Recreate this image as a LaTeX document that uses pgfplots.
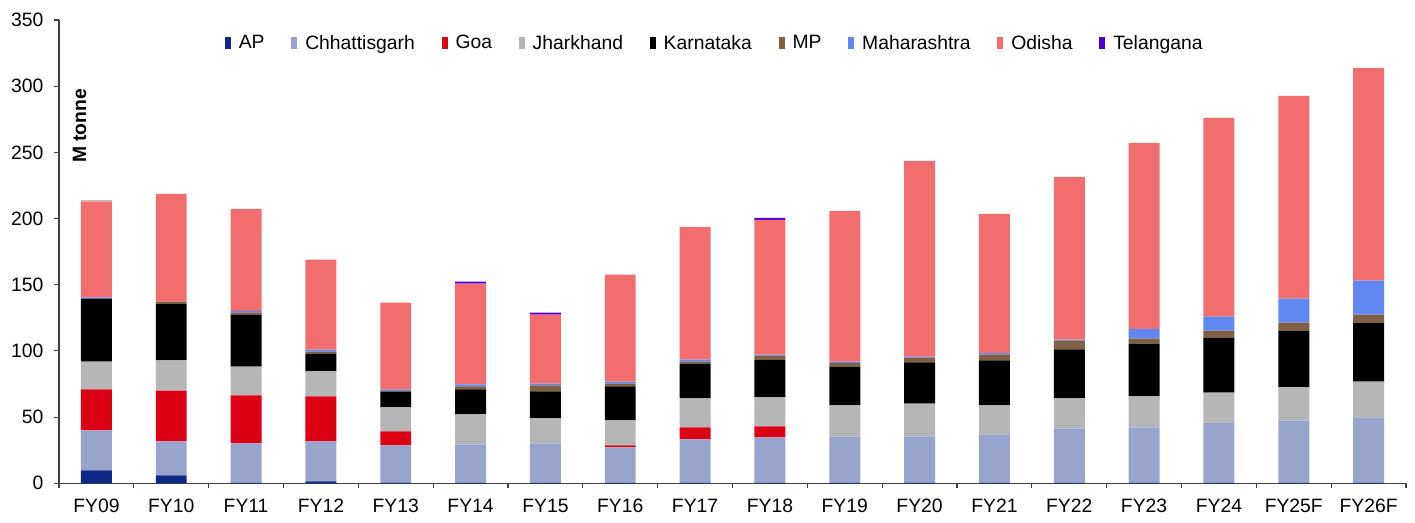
\documentclass[border=0pt]{standalone}
\usepackage{pgfplots}
\pgfplotsset{compat=1.18}
\usepackage{pgfplotstable}
\usepackage{fontspec}
\setmainfont{Liberation Sans}
\usetikzlibrary{calc}

\definecolor{cAP}{RGB}{14,40,136}
\definecolor{cCh}{RGB}{152,164,204}
\definecolor{cGoa}{RGB}{220,0,20}
\definecolor{cJh}{RGB}{182,182,182}
\definecolor{cKa}{RGB}{0,0,0}
\definecolor{cMP}{RGB}{128,96,66}
\definecolor{cMh}{RGB}{96,136,240}
\definecolor{cOd}{RGB}{242,110,110}
\definecolor{cTe}{RGB}{76,0,220}
\definecolor{cOt}{RGB}{190,190,190}
\definecolor{axgray}{RGB}{64,64,64}

\pgfplotstableread{
x AP Ch Goa Jh Ka MP Mh Od Te Ot
0 9.8 30.2 30.9 21.1 47.5 0 1.0 72.4 0 1.3
1 6.0 25.7 38.4 22.7 42.9 1.5 0 81.5 0 0
2 0.3 29.9 36.2 21.8 39.3 1.5 1.2 77.2 0 0
3 1.5 30.2 33.9 18.9 13.5 1.5 1.5 67.9 0 0
4 0.5 28.2 10.5 18.1 11.5 1.0 1.2 65.5 0 0
5 0.3 29.1 0 22.6 18.9 2.3 1.5 76.1 1.5 0
6 0.3 29.9 0 18.8 20.4 4.5 1.5 52.1 1.5 0
7 0.3 26.8 1.6 18.8 25.7 2.2 1.5 80.7 0 0
8 0.3 32.9 9.0 21.9 26.4 1.5 1.5 100.3 0 0
9 0.3 34.4 8.3 21.9 28.6 3.0 0.8 101.8 1.5 0
10 0.3 35.1 0 23.4 29.4 2.8 1.0 113.9 0 0
11 0.3 35.1 0 24.9 31.0 3.7 0.8 147.8 0 0
12 0.3 36.7 0 21.8 34.0 4.5 1.0 105.3 0 0
13 0.3 41.2 0 22.6 37.0 6.7 0.8 122.9 0 0
14 0.3 41.9 0 23.4 40.0 3.7 7.1 140.8 0 0
15 0.3 45.7 0 22.6 41.5 5.3 10.5 150.1 0 0
16 0.3 47.2 0 24.9 43.0 6.0 18.1 153.1 0 0
17 0.3 49.5 0 27.1 44.5 6.1 25.6 160.6 0 0
}\datatable

\pgfplotsset{
  sbar/.style={draw=none, fill=#1,
    legend image code/.code={\fill[##1] (0pt,-4.5pt) rectangle (4.5pt,4.5pt);}},
}

\begin{document}
\begin{tikzpicture}
\begin{axis}[
  scale only axis,
  width=1010.25pt, height=347.5pt,
  ybar stacked, bar width=0.414,
  xmin=-0.5, xmax=17.5, ymin=0, ymax=350,
  enlargelimits=false,
  axis lines*=left,
  axis line style={draw=axgray, line width=0.8pt},
  tick align=outside,
  major tick length=3.75pt,
  tick style={draw=axgray, line width=0.8pt},
  xtick={-0.5,0.5,...,17.5},
  x tick label as interval,
  xticklabels={FY09,FY10,FY11,FY12,FY13,FY14,FY15,FY16,FY17,FY18,FY19,FY20,FY21,FY22,FY23,FY24,FY25F,FY26F},
  ytick={0,50,...,350},
  xticklabel shift=4.4pt,
  yticklabel shift=4.4pt,
  /pgf/number format/assume math mode=true,
  tick label style={font=\fontsize{14.5}{17}\selectfont, text=black},
  legend style={at={(0.487,0.95)}, anchor=center, draw=none, fill=none,
    legend columns=-1, font=\fontsize{14.5}{17}\selectfont,
    /tikz/every odd column/.append style={column sep=4pt},
    /tikz/every even column/.append style={column sep=18pt}},
]
\addplot[sbar=cAP] table[x=x,y=AP] {\datatable};
\addlegendentry{AP}
\addplot[sbar=cCh] table[x=x,y=Ch] {\datatable};
\addlegendentry{Chhattisgarh}
\addplot[sbar=cGoa] table[x=x,y=Goa] {\datatable};
\addlegendentry{Goa}
\addplot[sbar=cJh] table[x=x,y=Jh] {\datatable};
\addlegendentry{Jharkhand}
\addplot[sbar=cKa] table[x=x,y=Ka] {\datatable};
\addlegendentry{Karnataka}
\addplot[sbar=cMP] table[x=x,y=MP] {\datatable};
\addlegendentry{MP}
\addplot[sbar=cMh] table[x=x,y=Mh] {\datatable};
\addlegendentry{Maharashtra}
\addplot[sbar=cOd] table[x=x,y=Od] {\datatable};
\addlegendentry{Odisha}
\addplot[sbar=cTe] table[x=x,y=Te] {\datatable};
\addlegendentry{Telangana}
\addplot[sbar=cOt, forget plot] table[x=x,y=Ot] {\datatable};
\node[rotate=90, font=\bfseries\fontsize{14.5}{17}\selectfont, anchor=center] at (axis cs:-0.226,270) {M tonne};
\end{axis}
\pgfresetboundingbox
\path ($(current axis.south west)+(-44.25pt,-29.25pt)$) rectangle ($(current axis.north east)+(6.75pt,15pt)$);
\end{tikzpicture}
\end{document}
